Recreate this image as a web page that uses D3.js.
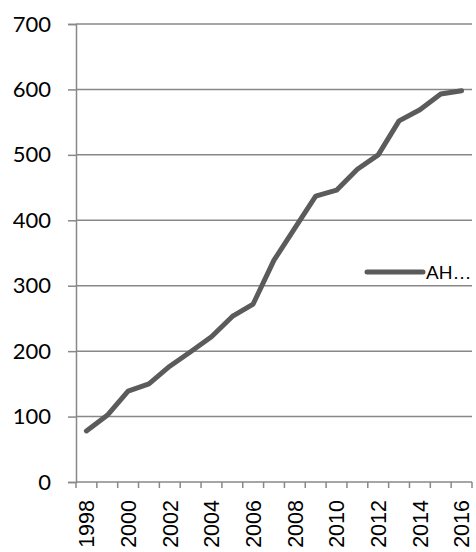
<!DOCTYPE html>
<html>
<head>
<meta charset="utf-8">
<script src="https://cdn.jsdelivr.net/npm/d3@7"></script>
<style>
html,body{margin:0;padding:0;background:#fff;}
svg{display:block;}
</style>
</head>
<body>
<svg id="chart" width="476" height="552"></svg>
<script>
const years = [1998,1999,2000,2001,2002,2003,2004,2005,2006,2007,2008,2009,2010,2011,2012,2013,2014,2015,2016];
const values = [78,102,139,150,177,199,222,253,272,339,388,437,446,478,500,552,569,593,598];
const yTicks = [0,100,200,300,400,500,600,700];
const xLabels = [1998,2000,2002,2004,2006,2008,2010,2012,2014,2016];
const seriesName = "AH…";

(function(){
const svg = d3.select("#chart");
const pLeft = 76, pRight = 472, pTop = 24, pBottom = 482;
const gridColor = "#888888";

const x = d3.scaleBand().domain(years).range([pLeft, pRight]).padding(0);
const y = d3.scaleLinear().domain([0, 700]).range([pBottom, pTop]);

// gridlines
svg.append("g").selectAll("line").data(yTicks.filter(d => d > 0)).join("line")
  .attr("x1", pLeft).attr("x2", pRight)
  .attr("y1", d => y(d)).attr("y2", d => y(d))
  .attr("stroke", gridColor).attr("stroke-width", 1.5);

// y axis
const yAxis = d3.axisLeft(y).tickValues(yTicks).tickSize(8).tickPadding(17).tickFormat(d3.format("d"));
const gy = svg.append("g").attr("transform", `translate(${pLeft},0)`).call(yAxis);
gy.select(".domain").attr("stroke", gridColor).attr("stroke-width", 1.5);
gy.selectAll(".tick line").attr("stroke", gridColor).attr("stroke-width", 1.5);
gy.selectAll(".tick text").attr("font-family", "Lato, 'Open Sans', sans-serif")
  .attr("font-size", 22).attr("fill", "#000");

// x axis
const gx = svg.append("g").attr("transform", `translate(0,${pBottom})`);
gx.append("line").attr("x1", pLeft).attr("x2", pRight).attr("y1", 0).attr("y2", 0)
  .attr("stroke", gridColor).attr("stroke-width", 1.5);
const boundaries = years.map(d => x(d)).concat([x(years[years.length-1]) + x.bandwidth()]);
gx.selectAll("line.tk").data(boundaries).join("line").attr("class", "tk")
  .attr("x1", d => d).attr("x2", d => d).attr("y1", 0).attr("y2", 6)
  .attr("stroke", gridColor).attr("stroke-width", 1.5);
gx.selectAll("text").data(xLabels).join("text")
  .attr("transform", d => `translate(${x(d) + x.bandwidth()/2},18) rotate(-90)`)
  .attr("text-anchor", "end").attr("dy", "0.36em")
  .attr("font-family", "'Liberation Sans', Arial, sans-serif").attr("font-size", 21.5)
  .attr("fill", "#000").text(d => d);

// line
const line = d3.line().x((d, i) => x(years[i]) + x.bandwidth()/2).y(d => y(d));
svg.append("path").datum(values).attr("d", line)
  .attr("fill", "none").attr("stroke", "#5b5b5b").attr("stroke-width", 5)
  .attr("stroke-linejoin", "round").attr("stroke-linecap", "round");

// legend
const lg = svg.append("g").attr("transform", "translate(367,272)");
lg.append("line").attr("x1", 0).attr("x2", 56).attr("y1", 0).attr("y2", 0)
  .attr("stroke", "#5b5b5b").attr("stroke-width", 5).attr("stroke-linecap", "round");
lg.append("text").attr("x", 59).attr("y", 0).attr("dy", "0.36em")
  .attr("font-family", "'Liberation Sans', Arial, sans-serif").attr("font-size", 19)
  .attr("fill", "#000").text(seriesName);
})();
</script>
</body>
</html>
